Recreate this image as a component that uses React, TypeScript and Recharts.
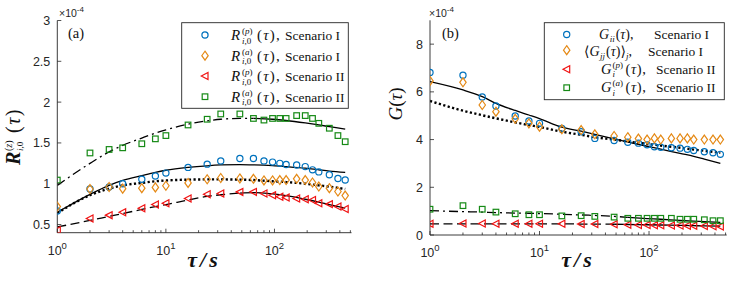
import React from 'react';
import { ComposedChart, Scatter, Line, XAxis, YAxis } from 'recharts';

// lag values (s)
const TAU = [1, 2, 3, 4, 6, 8, 10, 16, 24, 32, 48, 64, 80, 96, 112, 128, 160, 192, 224, 256, 320, 384, 448];
const FIT_TAU = [1, 2, 3, 4, 6, 8, 10, 16, 24, 32, 48, 64, 96, 128, 192, 256, 320, 448];

// (a) R_{i,0}(tau), units of 1e-4
const R_P_I = [0.665, 0.935, 0.96, 1.0, 1.055, 1.095, 1.13, 1.2, 1.24, 1.28, 1.31, 1.31, 1.28, 1.265, 1.25, 1.235, 1.23, 1.21, 1.17, 1.145, 1.11, 1.065, 1.045];
const R_A_I = [0.72, 0.935, 0.96, 0.94, 0.945, 0.955, 0.975, 1.01, 1.055, 1.07, 1.065, 1.06, 1.04, 1.04, 1.045, 1.045, 1.06, 1.045, 1.015, 0.965, 0.945, 0.905, 0.855];
const R_P_II = [0.43, 0.575, 0.615, 0.65, 0.7, 0.745, 0.76, 0.82, 0.87, 0.88, 0.9, 0.9, 0.88, 0.86, 0.84, 0.83, 0.82, 0.81, 0.8, 0.76, 0.75, 0.72, 0.69];
const R_A_II = [1.045, 1.377, 1.42, 1.44, 1.49, 1.55, 1.59, 1.72, 1.79, 1.855, 1.855, 1.8, 1.78, 1.8, 1.8, 1.8, 1.835, 1.835, 1.8, 1.74, 1.68, 1.59, 1.515];
const FIT_R_P_I = [0.65, 0.87, 0.98, 1.04, 1.1, 1.14, 1.165, 1.2, 1.22, 1.23, 1.235, 1.232, 1.222, 1.21, 1.19, 1.17, 1.155, 1.14];
const FIT_R_A_I = [0.64, 0.86, 0.94, 0.98, 1.01, 1.03, 1.04, 1.05, 1.053, 1.053, 1.05, 1.045, 1.03, 1.02, 1.0, 0.98, 0.965, 0.935];
const FIT_R_P_II = [0.47, 0.55, 0.6, 0.635, 0.685, 0.72, 0.745, 0.8, 0.845, 0.865, 0.885, 0.89, 0.875, 0.855, 0.81, 0.775, 0.745, 0.7];
const FIT_R_A_II = [0.98, 1.25, 1.39, 1.47, 1.56, 1.62, 1.66, 1.73, 1.77, 1.79, 1.8, 1.8, 1.79, 1.775, 1.745, 1.72, 1.7, 1.67];

// (b) G(tau), units of 1e-4
const G_II_I = [6.81, 6.7, 5.79, 5.41, 4.99, 4.78, 4.68, 4.47, 4.33, 4.05, 3.96, 3.89, 3.85, 3.78, 3.7, 3.68, 3.66, 3.64, 3.59, 3.54, 3.49, 3.45, 3.38];
const G_JJ_I = [6.46, 6.4, 5.45, 5.17, 4.87, 4.68, 4.54, 4.43, 4.4, 4.22, 4.15, 4.1, 4.04, 4.0, 4.05, 4.0, 4.05, 4.05, 4.05, 4.0, 4.0, 4.0, 4.0];
const G_P_II = [0.47, 0.48, 0.48, 0.47, 0.47, 0.47, 0.47, 0.47, 0.46, 0.46, 0.45, 0.43, 0.42, 0.42, 0.41, 0.41, 0.4, 0.4, 0.39, 0.39, 0.38, 0.37, 0.36];
const G_A_II = [1.08, 1.23, 1.08, 0.96, 0.89, 0.85, 0.85, 0.8, 0.81, 0.78, 0.75, 0.7, 0.7, 0.7, 0.7, 0.7, 0.7, 0.66, 0.66, 0.66, 0.64, 0.6, 0.6];
const FIT_G_II = [6.43, 6.08, 5.8, 5.52, 5.22, 5.03, 4.88, 4.52, 4.35, 4.22, 4.03, 3.9, 3.72, 3.6, 3.42, 3.3, 3.18, 3.0];
const FIT_G_JJ = [5.62, 5.21, 5.02, 4.89, 4.72, 4.61, 4.53, 4.33, 4.2, 4.1, 4.0, 3.92, 3.82, 3.75, 3.66, 3.58, 3.53, 3.45];
const FIT_G_P = [0.47, 0.47, 0.47, 0.47, 0.47, 0.47, 0.47, 0.47, 0.46, 0.46, 0.45, 0.44, 0.43, 0.42, 0.4, 0.39, 0.38, 0.37];
const FIT_G_A = [1.02, 0.98, 0.96, 0.94, 0.92, 0.91, 0.9, 0.87, 0.84, 0.82, 0.78, 0.74, 0.69, 0.66, 0.61, 0.58, 0.56, 0.53];

const X_TICKS = [1, 2, 3, 4, 5, 6, 7, 8, 9, 10, 20, 30, 40, 50, 60, 70, 80, 90, 100, 200, 300, 400, 500];
const X_MAJOR: Record<number, string> = { 1: '0', 10: '1', 100: '2' };
const Y_TICKS_A = [0.5, 1, 1.5, 2, 2.5, 3];
const Y_TICKS_B = [0, 2, 4, 6, 8];

const AX = '#262626';
const BLUE = '#0072BD';
const ORANGE = '#E58A17';
const RED = '#F01414';
const GREEN = '#168A16';
const SANS = '"Liberation Sans", Arial, sans-serif';
const SERIF = '"Liberation Serif", "DejaVu Serif", "Times New Roman", serif';

const pts = (xs: number[], ys: number[]) => xs.map((x, i) => ({ x, y: ys[i] }));
const fit = (ys: number[], from = 0, to = FIT_TAU.length) => pts(FIT_TAU, ys).slice(from, to);

function Marker({ kind, cx, cy, color }: any) {
  const p = { fill: 'none', stroke: color, strokeWidth: 1.2 };
  if (kind === 'circle') return <circle cx={cx} cy={cy} r={3.1} {...p} />;
  if (kind === 'diamond')
    return <polygon points={`${cx},${cy - 4.5} ${cx + 3.2},${cy} ${cx},${cy + 4.5} ${cx - 3.2},${cy}`} {...p} />;
  if (kind === 'tri')
    return <polygon points={`${cx - 3.7},${cy} ${cx + 3},${cy - 3.5} ${cx + 3},${cy + 3.5}`} {...p} />;
  return <rect x={cx - 2.8} y={cy - 2.8} width={5.6} height={5.6} {...p} />;
}

function BottomTick({ x, y, payload }: any) {
  const label = X_MAJOR[payload.value];
  return (
    <g>
      <line x1={x} x2={x} y1={y} y2={y - (label ? 4 : 2.5)} stroke={AX} strokeWidth={0.8} />
      {label && (
        <text x={x} y={y + 22} textAnchor="middle" fontFamily={SANS} fontSize={12.5} fill={AX}>
          10<tspan dy={-6} fontSize={9.5}>{label}</tspan>
        </text>
      )}
    </g>
  );
}

function TopTick({ x, y, payload }: any) {
  const major = X_MAJOR[payload.value];
  return <line x1={x} x2={x} y1={y} y2={y + (major ? 4 : 2.5)} stroke={AX} strokeWidth={0.8} />;
}

function LeftTick({ x, y, payload }: any) {
  return (
    <g>
      <line x1={x} x2={x + 4} y1={y} y2={y} stroke={AX} strokeWidth={0.8} />
      <text x={x - 7} y={y + 4.5} textAnchor="end" fontFamily={SANS} fontSize={12.5} fill={AX}>
        {payload.value}
      </text>
    </g>
  );
}

function RightTick({ x, y }: any) {
  return <line x1={x} x2={x - 4} y1={y} y2={y} stroke={AX} strokeWidth={0.8} />;
}

function Panel({ width, margin, yWidth, yDomain, yTicks, series, fits }: any) {
  const common = { tickSize: 0, tickMargin: 0, tickLine: false, axisLine: { stroke: AX, strokeWidth: 0.9 }, interval: 0 as const };
  return (
    <ComposedChart width={width} height={284} margin={margin}>
      <XAxis xAxisId={0} dataKey="x" type="number" scale="log" domain={[1, 512]} allowDataOverflow ticks={X_TICKS} height={30} tick={(p: any) => <BottomTick {...p} />} {...common} />
      <XAxis xAxisId="top" orientation="top" dataKey="x" type="number" scale="log" domain={[1, 512]} allowDataOverflow ticks={X_TICKS} height={0} tick={(p: any) => <TopTick {...p} />} {...common} />
      <YAxis yAxisId={0} dataKey="y" type="number" domain={yDomain} allowDataOverflow ticks={yTicks} width={yWidth} tick={(p: any) => <LeftTick {...p} />} {...common} />
      <YAxis yAxisId="right" orientation="right" dataKey="y" type="number" domain={yDomain} allowDataOverflow ticks={yTicks} width={0} tick={(p: any) => <RightTick {...p} />} {...common} />
      {series.map((s: any, i: number) => (
        <Scatter
          key={'s' + i}
          data={s.data}
          dataKey="y"
          isAnimationActive={false}
          shape={(p: any) => <Marker kind={s.kind} cx={p.cx} cy={p.cy} color={s.color} />}
        />
      ))}
      {fits.map((f: any, i: number) => (
        <Line
          key={'f' + i}
          data={f.data}
          dataKey="y"
          type="monotone"
          stroke="#000"
          strokeWidth={f.width ?? 1.3}
          strokeDasharray={f.dash}
          dot={false}
          activeDot={false}
          isAnimationActive={false}
        />
      ))}
    </ComposedChart>
  );
}

const DOTTED = '2.2 2.4';
const DASHED = '9 4.5';
const DASHDOT = '9 4 2 4';

const seriesA = [
  { data: pts(TAU, R_P_I), kind: 'circle', color: BLUE },
  { data: pts(TAU, R_A_I), kind: 'diamond', color: ORANGE },
  { data: pts(TAU, R_P_II), kind: 'tri', color: RED },
  { data: pts(TAU, R_A_II), kind: 'square', color: GREEN },
];
const fitsA = [
  { data: fit(FIT_R_P_I) },
  { data: fit(FIT_R_A_I), dash: DOTTED, width: 2.4 },
  { data: fit(FIT_R_P_II, 0, 11), dash: DASHED },
  { data: fit(FIT_R_P_II, 10) },
  { data: fit(FIT_R_A_II, 0, 12), dash: DASHDOT },
  { data: fit(FIT_R_A_II, 11) },
];
const seriesB = [
  { data: pts(TAU, G_II_I), kind: 'circle', color: BLUE },
  { data: pts(TAU, G_JJ_I), kind: 'diamond', color: ORANGE },
  { data: pts(TAU, G_P_II), kind: 'tri', color: RED },
  { data: pts(TAU, G_A_II), kind: 'square', color: GREEN },
];
const fitsB = [
  { data: fit(FIT_G_II) },
  { data: fit(FIT_G_JJ), dash: DOTTED, width: 2.4 },
  { data: fit(FIT_G_P, 0, 11), dash: DASHED },
  { data: fit(FIT_G_P, 10) },
  { data: fit(FIT_G_A, 0, 12), dash: DASHDOT },
  { data: fit(FIT_G_A, 11) },
];

function Tau() {
  return <tspan fontStyle="italic">τ</tspan>;
}

function Overlay() {
  const t = { fontFamily: SERIF, fill: '#111' };
  const rowsA = [
    { cy: 35, sup: 'p', scen: 'I', kind: 'circle', color: BLUE },
    { cy: 55.7, sup: 'a', scen: 'I', kind: 'diamond', color: ORANGE },
    { cy: 76, sup: 'p', scen: 'II', kind: 'tri', color: RED },
    { cy: 96.7, sup: 'a', scen: 'II', kind: 'square', color: GREEN },
  ];
  return (
    <svg width={747} height={284} style={{ position: 'absolute', left: 0, top: 0, pointerEvents: 'none' }}>
      {/* exponent labels */}
      <text x={59} y={17} fontFamily={SANS} fontSize={10.5} fill={AX}>
        ×10<tspan dy={-5} fontSize={8}>-4</tspan>
      </text>
      <text x={429} y={17} fontFamily={SANS} fontSize={10.5} fill={AX}>
        ×10<tspan dy={-5} fontSize={8}>-4</tspan>
      </text>
      <text x={68} y={37.5} fontSize={14.5} {...t}>(a)</text>
      <text x={442} y={37.5} fontSize={14.5} {...t}>(b)</text>

      {/* axis titles */}
      <text x={204} y={267} textAnchor="middle" fontSize={22} fontWeight="bold" fontStyle="italic" letterSpacing={3} {...t}>τ/s</text>
      <text x={578} y={267} textAnchor="middle" fontSize={22} fontWeight="bold" fontStyle="italic" letterSpacing={3} {...t}>τ/s</text>
      <g transform="translate(20,134) rotate(-90)">
        <text x={-31} y={0} fontSize={20} fontWeight="bold" fontStyle="italic" {...t}>R</text>
        <text x={-17} y={-8} fontSize={10} {...t}>(<tspan fontStyle="italic">z</tspan>)</text>
        <text x={-17} y={3} fontSize={9} fontStyle="italic" {...t}>i<tspan fontStyle="normal">,0</tspan></text>
        <text x={1} y={0} fontSize={20} letterSpacing={1.5} {...t}>(<Tau />)</text>
      </g>
      <g transform="translate(402,104) rotate(-90)">
        <text x={0} y={0} textAnchor="middle" fontSize={19} {...t}>
          <tspan fontStyle="italic">G</tspan>(<Tau />)
        </text>
      </g>

      {/* legend (a) */}
      <rect x={181.7} y={22.7} width={166.6} height={85.6} fill="#fff" stroke={AX} strokeWidth={0.9} />
      {rowsA.map((r) => (
        <g key={r.cy}>
          <Marker kind={r.kind} cx={205} cy={r.cy} color={r.color} />
          <text x={231} y={r.cy + 5} fontSize={15} fontStyle="italic" {...t}>R</text>
          <text x={242} y={r.cy - 1} fontSize={9} {...t}>(<tspan fontStyle="italic">{r.sup}</tspan>)</text>
          <text x={242} y={r.cy + 8.5} fontSize={9} fontStyle="italic" {...t}>i<tspan fontStyle="normal">,0</tspan></text>
          <text x={257} y={r.cy + 5} fontSize={15} letterSpacing={1.2} {...t}>(<Tau />),</text>
          <text x={285} y={r.cy + 5} fontSize={13.5} {...t}>Scenario {r.scen}</text>
        </g>
      ))}

      {/* legend (b) */}
      <rect x={544.3} y={22.7} width={180} height={77} fill="#fff" stroke={AX} strokeWidth={0.9} />
      <Marker kind="circle" cx={566.7} cy={34.5} color={BLUE} />
      <Marker kind="diamond" cx={566.7} cy={50.2} color={ORANGE} />
      <Marker kind="tri" cx={566.7} cy={69.3} color={RED} />
      <Marker kind="square" cx={566.7} cy={87.7} color={GREEN} />

      <text x={599} y={38.5} fontSize={14} {...t}>
        <tspan fontStyle="italic">G</tspan>
        <tspan dx={0.5} dy={3} fontSize={9} fontStyle="italic">ii</tspan>
        <tspan dx={1} dy={-3}>(</tspan>
        <Tau />
        <tspan>),</tspan>
      </text>
      <text x={654} y={38.5} fontSize={13.5} {...t}>Scenario I</text>

      <text x={584} y={56} fontSize={14} {...t}>
        <tspan>⟨</tspan>
        <tspan fontStyle="italic">G</tspan>
        <tspan dx={0.5} dy={3} fontSize={9} fontStyle="italic">jj</tspan>
        <tspan dx={1} dy={-3}>(</tspan>
        <Tau />
        <tspan>)⟩</tspan>
        <tspan dy={3} fontSize={9} fontStyle="italic">j</tspan>
        <tspan dy={-3}>,</tspan>
      </text>
      <text x={648} y={56} fontSize={13.5} {...t}>Scenario I</text>

      {[
        { cy: 69.3, sup: 'p' },
        { cy: 87.7, sup: 'a' },
      ].map((r) => (
        <g key={r.cy}>
          <text x={601} y={r.cy + 4.5} fontSize={14.5} fontStyle="italic" {...t}>G</text>
          <text x={612.5} y={r.cy - 1.5} fontSize={9} {...t}>(<tspan fontStyle="italic">{r.sup}</tspan>)</text>
          <text x={612.5} y={r.cy + 8} fontSize={9} fontStyle="italic" {...t}>i</text>
          <text x={625.5} y={r.cy + 4.5} fontSize={14.5} letterSpacing={0.6} {...t}>(<Tau />),</text>
          <text x={656} y={r.cy + 4.5} fontSize={13.5} {...t}>Scenario II</text>
        </g>
      ))}
    </svg>
  );
}

export default function App() {
  return (
    <div style={{ position: 'absolute', left: 0, top: 0, width: 747, height: 284, background: '#fff' }}>
      <div style={{ position: 'absolute', left: 0, top: 0 }}>
        <Panel
          width={375}
          margin={{ top: 20.5, right: 23.5, bottom: 21.3, left: 0.3 }}
          yWidth={57}
          yDomain={[0.4, 3]}
          yTicks={Y_TICKS_A}
          series={seriesA}
          fits={fitsA}
        />
      </div>
      <div style={{ position: 'absolute', left: 375, top: 0 }}>
        <Panel
          width={372}
          margin={{ top: 20.3, right: 20.3, bottom: 19, left: 0 }}
          yWidth={55}
          yDomain={[0, 9]}
          yTicks={Y_TICKS_B}
          series={seriesB}
          fits={fitsB}
        />
      </div>
      <Overlay />
    </div>
  );
}
